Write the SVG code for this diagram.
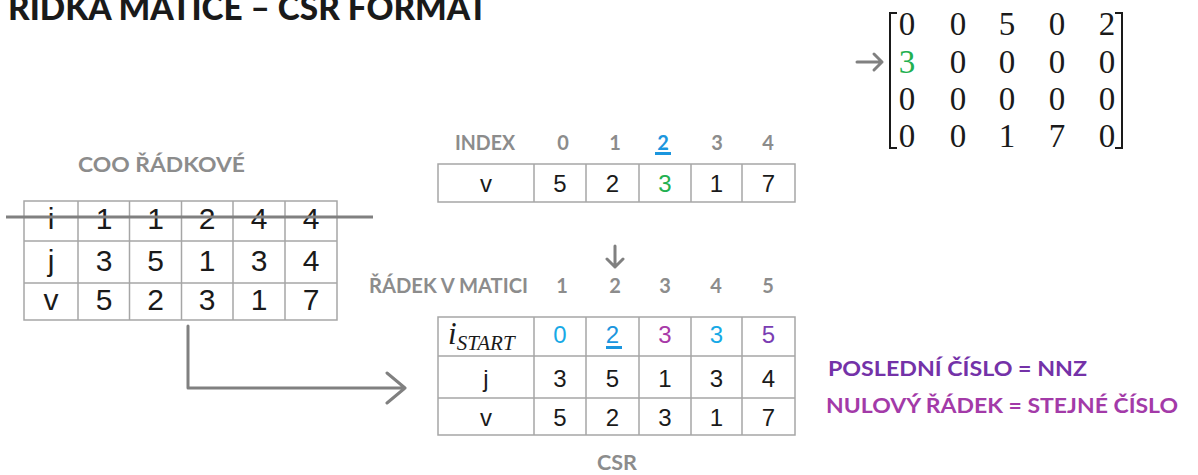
<svg xmlns="http://www.w3.org/2000/svg" width="1198" height="475" viewBox="0 0 1198 475">
<style>
.bg{fill:#ffffff}
.cell{fill:#ffffff;stroke:#a6a6a6;stroke-width:1.5}
.big{font-family:"Liberation Sans",Arial,sans-serif;font-size:30px;fill:#1a1a1a;text-anchor:middle}
.med{font-family:"Liberation Sans",Arial,sans-serif;font-size:24px;fill:#1a1a1a;text-anchor:middle}
.lbl{font-family:Lato,"Open Sans",sans-serif;font-weight:bold;font-size:20px;fill:#8c8c8c}
.num{font-family:Lato,"Open Sans",sans-serif;font-weight:bold;font-size:20px;fill:#8c8c8c;text-anchor:middle}
.mx{font-family:"Liberation Serif","Times New Roman",serif;font-size:33px;fill:#1a1a1a;text-anchor:middle}
.note{font-family:Lato,"Open Sans",sans-serif;font-weight:bold;font-size:21px}
.arrow{fill:none;stroke:#808080;stroke-width:3;stroke-linecap:round;stroke-linejoin:round}
.brk{fill:none;stroke:#1a1a1a;stroke-width:2}
</style>
<rect class="bg" x="0" y="0" width="1198" height="475"/>

<g id="title">
<text x="8" y="20" font-family="Lato,'Open Sans',sans-serif" font-weight="900" font-size="35" fill="#1a1a1a" textLength="480" lengthAdjust="spacingAndGlyphs">ŘÍDKÁ MATICE – CSR FORMÁT</text>
</g>

<g id="matrix">
<path class="brk" d="M897 13 H890 V148 H897"/>
<path class="brk" d="M1115 13 H1122 V148 H1115"/>
<g class="mx">
<text x="907" y="35">0</text><text x="958" y="35">0</text><text x="1007" y="35">5</text><text x="1057" y="35">0</text><text x="1107" y="35">2</text>
<text x="907" y="73" style="fill:#22b050">3</text><text x="958" y="73">0</text><text x="1007" y="73">0</text><text x="1057" y="73">0</text><text x="1107" y="73">0</text>
<text x="907" y="110">0</text><text x="958" y="110">0</text><text x="1007" y="110">0</text><text x="1057" y="110">0</text><text x="1107" y="110">0</text>
<text x="907" y="147">0</text><text x="958" y="147">0</text><text x="1007" y="147">1</text><text x="1057" y="147">7</text><text x="1107" y="147">0</text>
</g>
</g>

<g id="coo-table">
<text class="lbl" x="78" y="172" textLength="167" lengthAdjust="spacingAndGlyphs">COO ŘÁDKOVÉ</text>
<rect class="cell" x="24" y="201" width="313" height="119"/>
<path class="cell" d="M24 241 H337 M24 283 H337 M78 201 V320 M129.5 201 V320 M181.5 201 V320 M233 201 V320 M285 201 V320"/>
<g class="big">
<text x="51" y="229">i</text><text x="104" y="229">1</text><text x="155.5" y="229">1</text><text x="207" y="229">2</text><text x="259" y="229">4</text><text x="311" y="229">4</text>
<text x="51" y="271">j</text><text x="104" y="271">3</text><text x="155.5" y="271">5</text><text x="207" y="271">1</text><text x="259" y="271">3</text><text x="311" y="271">4</text>
<text x="51" y="310">v</text><text x="104" y="310">5</text><text x="155.5" y="310">2</text><text x="207" y="310">3</text><text x="259" y="310">1</text><text x="311" y="310">7</text>
</g>
<line x1="6" y1="217" x2="373" y2="217" stroke="#808080" stroke-width="3"/>
</g>

<g id="index-table">
<text class="lbl" x="455" y="150" textLength="60" lengthAdjust="spacingAndGlyphs">INDEX</text>
<g class="num">
<text x="563" y="150">0</text><text x="615" y="150">1</text><text x="663" y="150" style="fill:#1b96de">2</text><text x="717" y="150">3</text><text x="768" y="150">4</text>
</g>
<rect x="655" y="152" width="16" height="3" fill="#1b96de"/>
<rect class="cell" x="438" y="164" width="357" height="38"/>
<path class="cell" d="M534 164 V202 M586 164 V202 M639 164 V202 M691 164 V202 M742 164 V202"/>
<g class="med">
<text x="486" y="192">v</text><text x="560" y="192">5</text><text x="612.5" y="192">2</text><text x="665" y="192" style="fill:#22b050">3</text><text x="716.5" y="192">1</text><text x="768.5" y="192">7</text>
</g>
</g>

<g id="csr-table">
<text class="lbl" x="369" y="293" textLength="159" lengthAdjust="spacingAndGlyphs">ŘÁDEK V MATICI</text>
<g class="num">
<text x="562" y="293">1</text><text x="615" y="293">2</text><text x="665" y="293">3</text><text x="716" y="293">4</text><text x="768" y="293">5</text>
</g>
<rect class="cell" x="438" y="317" width="357" height="118"/>
<path class="cell" d="M438 356 H795 M438 398 H795 M534 317 V435 M586 317 V435 M639 317 V435 M691 317 V435 M742 317 V435"/>
<text x="448" y="344" font-family="'Liberation Serif','Times New Roman',serif" font-style="italic" font-size="31" fill="#1a1a1a">i<tspan font-size="21" dy="6">START</tspan></text>
<g class="med">
<text x="560" y="343" style="fill:#17a9e6">0</text><text x="612.5" y="343" style="fill:#1b96de">2</text><text x="665" y="343" style="fill:#a83aa8">3</text><text x="716.5" y="343" style="fill:#17a9e6">3</text><text x="768.5" y="343" style="fill:#7a3db3">5</text>
<text x="486" y="387">j</text><text x="560" y="387">3</text><text x="612.5" y="387">5</text><text x="665" y="387">1</text><text x="716.5" y="387">3</text><text x="768.5" y="387">4</text>
<text x="486" y="426">v</text><text x="560" y="426">5</text><text x="612.5" y="426">2</text><text x="665" y="426">3</text><text x="716.5" y="426">1</text><text x="768.5" y="426">7</text>
</g>
<rect x="606" y="346" width="16" height="3" fill="#1b96de"/>
<text class="lbl" x="597" y="470" textLength="40" lengthAdjust="spacingAndGlyphs">CSR</text>
</g>

<g id="notes">
<text class="note" x="828" y="376" fill="#7432a8" textLength="259" lengthAdjust="spacingAndGlyphs">POSLEDNÍ ČÍSLO = NNZ</text>
<text class="note" x="826" y="413" fill="#a33aa8" textLength="352" lengthAdjust="spacingAndGlyphs">NULOVÝ ŘÁDEK = STEJNÉ ČÍSLO</text>
</g>

<g id="connectors">
<path class="arrow" d="M857 62 H882 M874 54 L882 62 L874 70"/>
<path class="arrow" d="M615 246 V267 M607 259 L615 267 L623 259"/>
<path class="arrow" d="M188 326 V388 H405 M387 373 L405 388 L387 403"/>
</g>
</svg>
